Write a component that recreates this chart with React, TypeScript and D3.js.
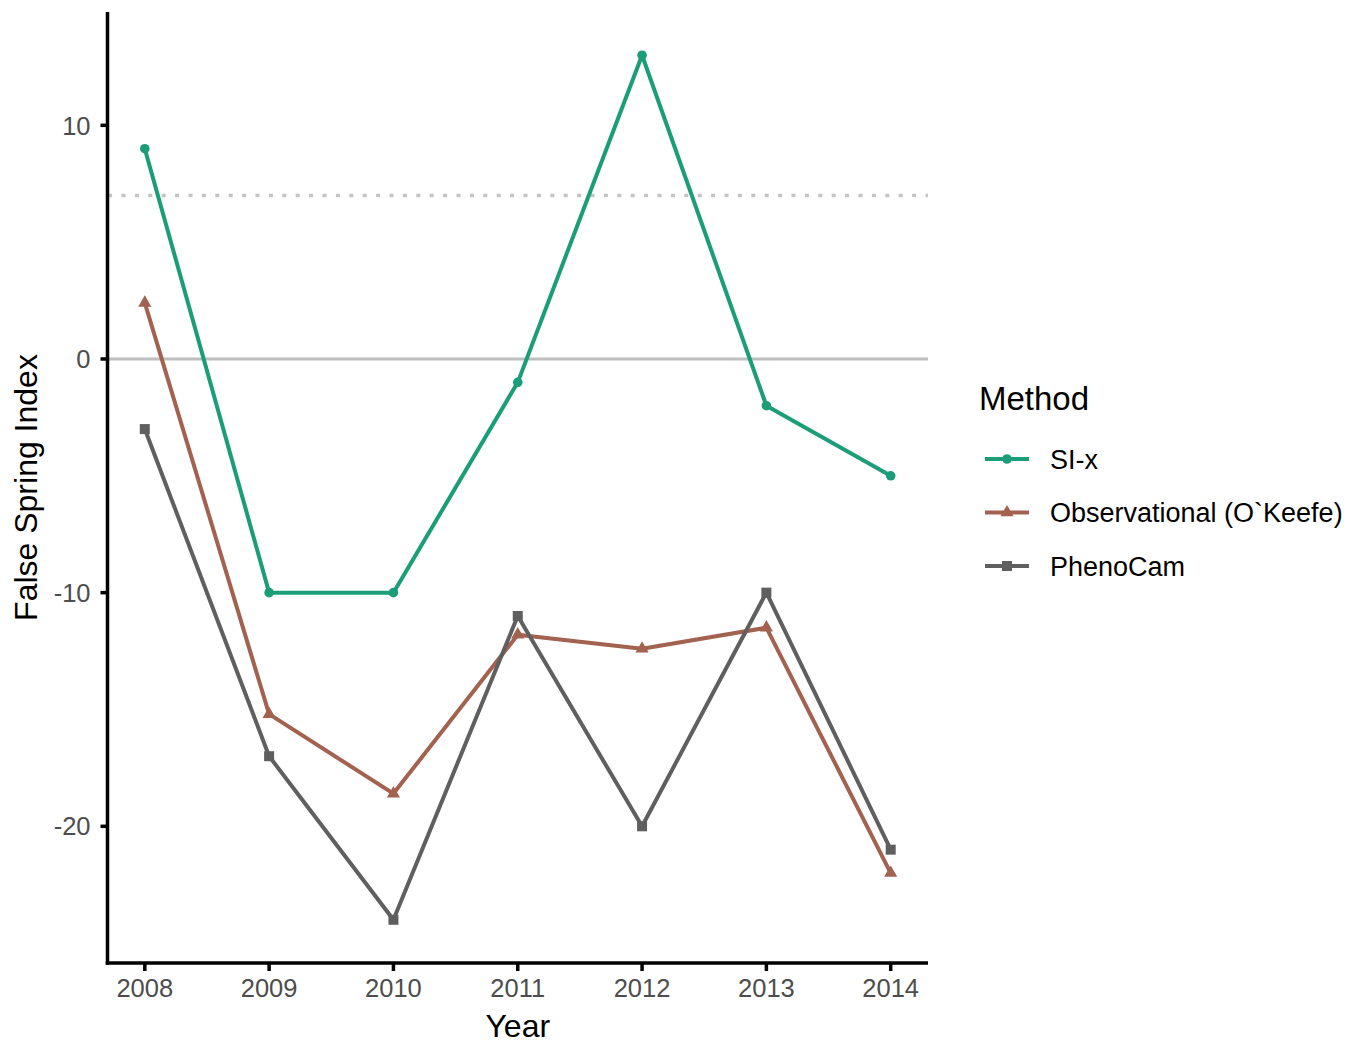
import React from "react";
import * as d3 from "d3";

const years = [2008, 2009, 2010, 2011, 2012, 2013, 2014];
const siX = [9, -10, -10, -1, 13, -2, -5];
const observational = [2.4, -15.2, -18.6, -11.8, -12.4, -11.5, -22.0];
const phenoCam = [-3, -17, -24, -11, -20, -10, -21];
const yTicks = [-20, -10, 0, 10];
const seriesNames = ["SI-x", "Observational (O`Keefe)", "PhenoCam"];
const seriesColors = ["#1b9e77", "#a3614f", "#5f5f5f"];
const seriesShapes = ["circle", "triangle", "square"];
const threshold = 7;

const W = 1361;
const H = 1043;
const left = 107.5;
const right = 928;
const top = 12;
const bottom = 963;

export default function App() {
  const x = d3.scaleLinear().domain([2007.7, 2014.3]).range([left, right]);
  const y = d3.scaleLinear().domain([-25.85, 14.85]).range([bottom, top]);
  const allSeries = [siX, observational, phenoCam];
  const line = d3
    .line<number>()
    .x((_, i) => x(years[i]))
    .y((d) => y(d));

  const marker = (shape: string, cx: number, cy: number, color: string, key: string) => {
    if (shape === "circle") return <circle key={key} cx={cx} cy={cy} r={4.8} fill={color} />;
    if (shape === "square")
      return <rect key={key} x={cx - 5} y={cy - 5} width={10} height={10} fill={color} />;
    const sym = d3.symbol().type(d3.symbolTriangle).size(75)();
    return <path key={key} d={sym || ""} transform={`translate(${cx},${cy})`} fill={color} />;
  };

  const font = "Liberation Sans, Arial, sans-serif";

  return (
    <svg
      width={W}
      height={H}
      style={{ position: "absolute", left: 0, top: 0, background: "#fff" }}
      fontFamily={font}
    >
      <rect width={W} height={H} fill="#fff" />
      {/* reference lines */}
      <line x1={left} x2={right} y1={y(0)} y2={y(0)} stroke="#bebebe" strokeWidth={3.2} />
      <line
        x1={left}
        x2={right}
        y1={y(threshold)}
        y2={y(threshold)}
        stroke="#c4c4c4"
        strokeWidth={3.5}
        strokeDasharray="4 9.4"
        strokeDashoffset={12.8}
      />
      {/* series */}
      {allSeries.map((s, si) => (
        <g key={si}>
          <path d={line(s) || ""} fill="none" stroke={seriesColors[si]} strokeWidth={4} strokeLinejoin="round" />
          {s.map((v, i) => marker(seriesShapes[si], x(years[i]), y(v), seriesColors[si], `${si}-${i}`))}
        </g>
      ))}
      {/* axes */}
      <line x1={left} x2={left} y1={top} y2={bottom + 1.75} stroke="#000" strokeWidth={3.5} />
      <line x1={left - 1.75} x2={right} y1={bottom} y2={bottom} stroke="#000" strokeWidth={3.5} />
      {yTicks.map((t) => (
        <g key={t}>
          <line x1={left - 7} x2={left} y1={y(t)} y2={y(t)} stroke="#000" strokeWidth={3.5} />
          <text
            x={left - 17}
            y={y(t)}
            dy="0.36em"
            textAnchor="end"
            fontSize={25.5}
            fill="#4d4d4d"
          >
            {t}
          </text>
        </g>
      ))}
      {years.map((t) => (
        <g key={t}>
          <line x1={x(t)} x2={x(t)} y1={bottom} y2={bottom + 8} stroke="#000" strokeWidth={3.5} />
          <text x={x(t)} y={bottom + 34} textAnchor="middle" fontSize={25.5} fill="#4d4d4d">
            {t}
          </text>
        </g>
      ))}
      <text x={(left + right) / 2} y={1037} textAnchor="middle" fontSize={32} fill="#000">
        Year
      </text>
      <text
        transform={`translate(37,${(top + bottom) / 2}) rotate(-90)`}
        textAnchor="middle"
        fontSize={32}
        fill="#000"
      >
        False Spring Index
      </text>
      {/* legend */}
      <text x={979} y={410} fontSize={33} fill="#000">
        Method
      </text>
      {seriesNames.map((n, i) => {
        const ly = 459 + i * 53.5;
        return (
          <g key={n}>
            <line x1={985} x2={1029} y1={ly} y2={ly} stroke={seriesColors[i]} strokeWidth={4} />
            {marker(seriesShapes[i], 1007, ly, seriesColors[i], `leg-${i}`)}
            <text x={1050} y={ly} dy="0.36em" fontSize={27} fill="#000">
              {n}
            </text>
          </g>
        );
      })}
    </svg>
  );
}
